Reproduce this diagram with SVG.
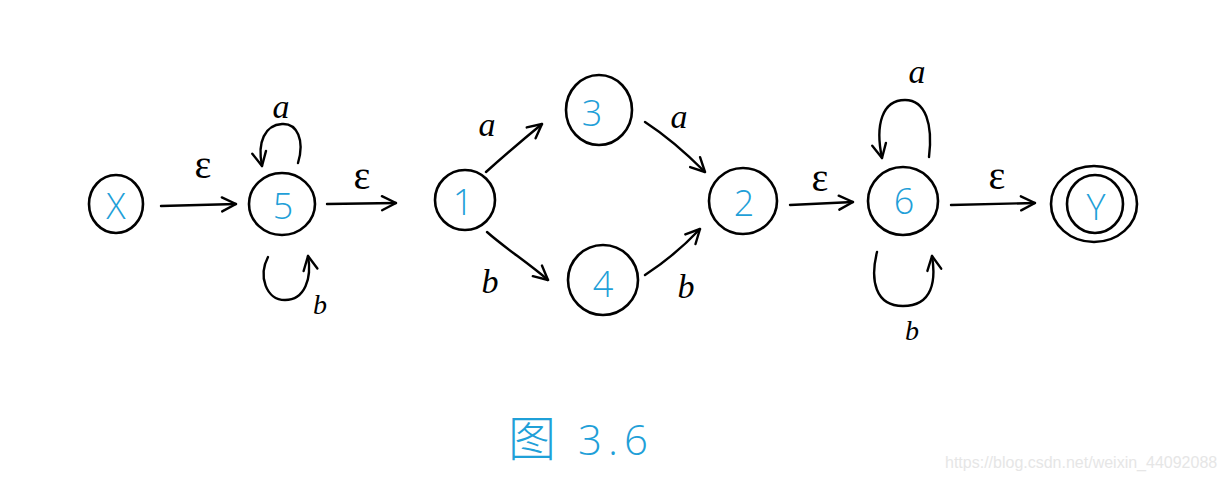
<svg xmlns="http://www.w3.org/2000/svg" width="1227" height="482" viewBox="0 0 1227 482">
<style>
.node{fill:none;stroke:#000;stroke-width:2.6}
.nl{font-family:"Open Sans","DejaVu Sans",sans-serif;font-weight:300;font-size:36px;fill:#1fa0d8;text-anchor:middle;dominant-baseline:central}
.edge{fill:none;stroke:#000;stroke-width:2.4;stroke-linecap:round;marker-end:url(#arr)}
.el{font-family:"Liberation Serif","DejaVu Serif",serif;font-style:italic;font-size:34px;fill:#000;text-anchor:middle;dominant-baseline:central}
.eps{font-family:"Liberation Serif","DejaVu Serif",serif;font-size:40px;fill:#000;text-anchor:middle;dominant-baseline:central}
</style>
<defs>
<marker id="arr" viewBox="0 0 20 20" refX="18" refY="10" markerWidth="20" markerHeight="20" markerUnits="userSpaceOnUse" orient="auto">
<path d="M4,3 L18,10 L4,17" fill="none" stroke="#000" stroke-width="2.4" stroke-linecap="round" stroke-linejoin="round"/>
</marker>
</defs>
<rect width="1227" height="482" fill="#fff"/>
<g id="edges">
<path class="edge" d="M161,206 L236,204"/>
<path class="edge" d="M327,204 L396,203"/>
<path class="edge" d="M298,163 C305,140 297,123 282,124 C265,125 257,142 262,166"/>
<path class="edge" d="M268,257 C258,276 266,300 285,300 C305,300 312,278 308,256"/>
<path class="edge" d="M486,172 C505,155 520,142 542,124"/>
<path class="edge" d="M487,232 C505,248 527,262 548,280"/>
<path class="edge" d="M645,122 C665,135 685,152 705,172"/>
<path class="edge" d="M645,275 C665,262 684,246 700,229"/>
<path class="edge" d="M790,205 L853,202"/>
<path class="edge" d="M929,157 C933,125 926,100 905,100 C882,100 875,125 882,158"/>
<path class="edge" d="M877,252 C870,280 875,306 903,306 C933,306 936,280 932,256"/>
<path class="edge" d="M951,205 L1035,203"/>
<text class="eps" x="203" y="164">ε</text>
<text class="eps" x="362" y="175">ε</text>
<text class="el" x="281" y="106">a</text>
<text class="el" x="320" y="304" style="font-size:28px">b</text>
<text class="el" x="487" y="124">a</text>
<text class="el" x="490" y="281">b</text>
<text class="el" x="679" y="116">a</text>
<text class="el" x="686" y="286">b</text>
<text class="eps" x="820" y="177">ε</text>
<text class="el" x="917" y="71">a</text>
<text class="el" x="912" y="330" style="font-size:28px">b</text>
<text class="eps" x="997" y="175">ε</text>
</g>
<g id="nX"><ellipse class="node" cx="116" cy="204" rx="27" ry="29"/><text class="nl" x="116" y="205">X</text></g>
<g id="n5"><ellipse class="node" cx="282" cy="204" rx="33" ry="31"/><text class="nl" x="283" y="205">5</text></g>
<g id="n1"><ellipse class="node" cx="465" cy="200" rx="30" ry="30"/><text class="nl" x="463" y="201">1</text></g>
<g id="n3"><ellipse class="node" cx="599" cy="110" rx="33" ry="35"/><text class="nl" x="592" y="112">3</text></g>
<g id="n4"><ellipse class="node" cx="603" cy="280" rx="35" ry="35"/><text class="nl" x="603" y="283">4</text></g>
<g id="n2"><ellipse class="node" cx="743" cy="201" rx="34" ry="33"/><text class="nl" x="744" y="202">2</text></g>
<g id="n6"><ellipse class="node" cx="903" cy="201" rx="35" ry="34"/><text class="nl" x="904" y="200">6</text></g>
<g id="nY"><ellipse class="node" cx="1094" cy="204" rx="43" ry="38"/><ellipse class="node" cx="1095" cy="204" rx="28" ry="29"/><text class="nl" x="1096" y="206">Y</text></g>
<text x="508" y="456" font-family="'Noto Sans CJK SC',sans-serif" font-weight="300" font-size="48" fill="#1fa0d8">图</text>
<text x="578" y="455" font-family="'Open Sans','DejaVu Sans',sans-serif" font-weight="300" font-size="42" fill="#1fa0d8" letter-spacing="6">3.6</text>
<text x="945" y="468" font-family="'Liberation Sans',Arial,sans-serif" font-size="16" fill="#e6e6e6">https://blog.csdn.net/weixin_44092088</text>
</svg>
